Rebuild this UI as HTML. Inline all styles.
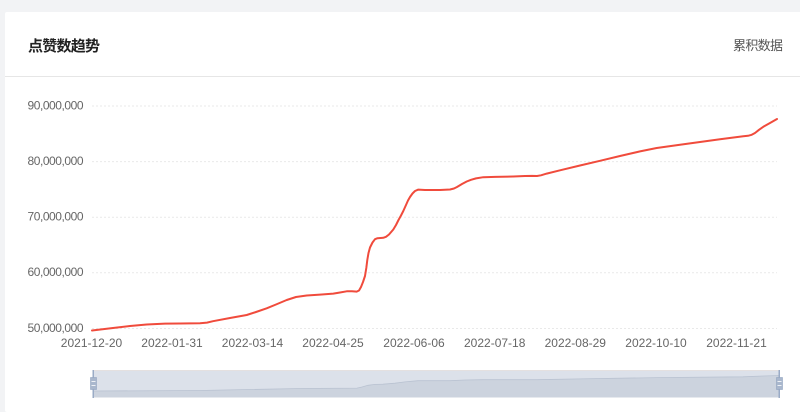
<!DOCTYPE html>
<html>
<head>
<meta charset="utf-8">
<style>
html,body{margin:0;padding:0;}
body{width:800px;height:403px;background:#f2f3f5;overflow:hidden;position:relative;font-family:"Liberation Sans","Noto Sans CJK SC",sans-serif;}
.card{position:absolute;left:5px;top:12px;width:800px;height:400px;background:#fff;border-radius:2px;}
svg{position:absolute;left:0;top:0;}
</style>
</head>
<body>
<div class="card"></div>
<svg width="800" height="403" viewBox="0 0 800 403" xmlns="http://www.w3.org/2000/svg">
  <!-- header -->
  <text x="28" y="51" font-family="Liberation Sans, Noto Sans CJK SC, sans-serif" font-size="15" font-weight="bold" fill="#222" textLength="72">点赞数趋势</text>
  <text x="733" y="50" font-family="Liberation Sans, Noto Sans CJK SC, sans-serif" font-size="13" fill="#555" textLength="50">累积数据</text>
  <rect x="5" y="76" width="795" height="1" fill="#e6e6e6"/>

  <!-- grid -->
  <g stroke="#e9e9e9" stroke-width="1" stroke-dasharray="2,2">
    <line x1="92" y1="106" x2="777" y2="106"/>
    <line x1="92" y1="161.6" x2="777" y2="161.6"/>
    <line x1="92" y1="217.2" x2="777" y2="217.2"/>
    <line x1="92" y1="272.8" x2="777" y2="272.8"/>
    <line x1="92" y1="328.5" x2="777" y2="328.5"/>
  </g>

  <!-- y labels -->
  <g font-family="Liberation Sans, sans-serif" font-size="12" fill="#666" text-anchor="end">
    <text x="83.5" y="109.5" textLength="56">90,000,000</text>
    <text x="83.5" y="165" textLength="56">80,000,000</text>
    <text x="83.5" y="220.5" textLength="56">70,000,000</text>
    <text x="83.5" y="276" textLength="56">60,000,000</text>
    <text x="83.5" y="332" textLength="56">50,000,000</text>
  </g>

  <!-- x labels -->
  <g font-family="Liberation Sans, sans-serif" font-size="12" fill="#666" text-anchor="middle">
    <text x="91.5" y="347">2021-12-20</text>
    <text x="172" y="347">2022-01-31</text>
    <text x="252.5" y="347">2022-03-14</text>
    <text x="333" y="347">2022-04-25</text>
    <text x="414" y="347">2022-06-06</text>
    <text x="494.7" y="347">2022-07-18</text>
    <text x="575.3" y="347">2022-08-29</text>
    <text x="656" y="347">2022-10-10</text>
    <text x="736.5" y="347">2022-11-21</text>
  </g>

  <!-- series -->
  <polyline fill="none" stroke="#f04b3c" stroke-width="2" stroke-linejoin="round" stroke-linecap="round"
    points="92,330.5 113,328 130,326 146.7,324.5 165,323.6 180,323.5 200,323.2 207,322.6 213,321.2 230,318 246.7,315 256,312 266.7,308.3 276,304.5 286.7,300 296,297 306.7,295.5 320,294.6 333.3,293.6 340,292.5 346.7,291.3 352,291.2 356.7,291.6 359,290.5 361,287 363,282 365,276 366.3,268 367.3,260 368.5,253 370,247.5 372.5,242.5 375,239.2 377.5,238.2 383.3,237.8 386,236.8 389,234.5 393.3,229.5 396,225 398.5,220 401,215.5 403.3,211 406,205 408,200.5 410,197 412.5,193.5 415,191 418.3,189.6 425,190 440,190 450,189.5 454,188.5 457,187 462,184 466.7,181.5 471,179.8 476,178.4 483.3,177.2 495,176.9 513.3,176.5 525,176 532,175.9 537,176 541,175.3 546.7,173.6 560,170.3 580,165.5 600,160.8 620,156 640,151.4 656.7,148 680,144.8 700,142 720,139.2 743.3,136.3 748,135.8 751.7,134.8 755,133 759,129.8 763.3,126.8 770,123 777,119"/>

  <!-- dataZoom slider -->
  <rect x="93" y="370" width="686" height="27.5" fill="#dce1ea"/>
  <path d="M93,391 L200,390.5 L300,388.5 L357,388.1 L362,387 L368,385.3 L375,384.4 L383,384.2 L395,383.2 L405,381.9 L418,380.7 L450,380.7 L465,380 L483,379.7 L537,379.7 L580,378.9 L657,377.6 L743,376.8 L763,376 L779,375.5 L779,397.5 L93,397.5 Z" fill="#ccd3de"/>
  <polyline fill="none" stroke="#b9c2d1" stroke-width="0.8" points="93,391 200,390.5 300,388.5 357,388.1 362,387 368,385.3 375,384.4 383,384.2 395,383.2 405,381.9 418,380.7 450,380.7 465,380 483,379.7 537,379.7 580,378.9 657,377.6 743,376.8 763,376 779,375.5"/>
  <rect x="93" y="370" width="686" height="1" fill="#e4e0e0"/>
  <!-- left handle -->
  <rect x="92.5" y="370" width="1.5" height="28" fill="#9aabc6"/>
  <rect x="90.5" y="377.5" width="6" height="12" fill="#a9b7cd" stroke="#93a4c0" stroke-width="0.6"/>
  <line x1="91.5" y1="381.5" x2="95.5" y2="381.5" stroke="#fff" stroke-width="0.8"/>
  <line x1="91.5" y1="385.5" x2="95.5" y2="385.5" stroke="#fff" stroke-width="0.8"/>
  <!-- right handle -->
  <rect x="778.5" y="370" width="1.5" height="28" fill="#9aabc6"/>
  <rect x="776.5" y="377.5" width="6" height="12" fill="#a9b7cd" stroke="#93a4c0" stroke-width="0.6"/>
  <line x1="777.5" y1="381.5" x2="781.5" y2="381.5" stroke="#fff" stroke-width="0.8"/>
  <line x1="777.5" y1="385.5" x2="781.5" y2="385.5" stroke="#fff" stroke-width="0.8"/>
</svg>
</body>
</html>
